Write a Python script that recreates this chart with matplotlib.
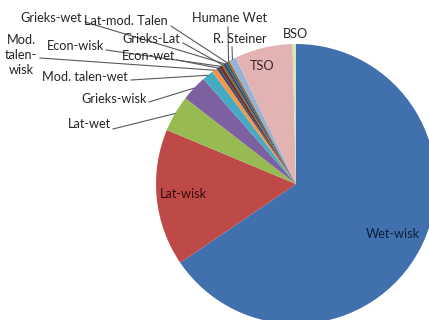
import numpy as np
import matplotlib
matplotlib.use('Agg')
import matplotlib.pyplot as plt

# slices clockwise from 12 o'clock (percent)
labels = ['Wet-wisk', 'Lat-wisk', 'Lat-wet', 'Grieks-wisk', 'Mod. talen-wet',
          'Mod.\ntalen-\nwisk', 'Econ-wet', 'Econ-wisk', 'Grieks-Lat', 'Grieks-wet',
          'Lat-mod. Talen', 'Humane Wet', 'R. Steiner', 'TSO', 'BSO']
values = [65.5, 15.8, 4.2, 3.0, 1.3, 0.6, 0.3, 0.4, 0.2, 0.3, 0.3, 0.2, 0.8, 6.7, 0.4]
colors = ['#4170AF', '#BE4A47', '#98BA52', '#7D60A0', '#46AAC5', '#F69546',
          '#2C4D75', '#772C2A', '#5F7530', '#4D3B62', '#276A7C', '#B65708',
          '#95B3D7', '#E3B3B3', '#D7E4BD']

W, H = 429, 320
CX, CY, R = 296, 184, 140   # pie centre / radius in pixels


def px(x, y):
    return (x - CX) / R, (CY - y) / R


fig = plt.figure(figsize=(W / 100, H / 100), dpi=100)
ax = fig.add_axes([0, 0, 1, 1])
plt.rcParams['font.family'] = ['Lato', 'DejaVu Sans']

wedges, _ = ax.pie(values, colors=colors, startangle=90, counterclock=False,
                   radius=1, wedgeprops=dict(linewidth=0))

x0, y0 = px(0, H)
x1, y1 = px(W, 0)
ax.set_xlim(x0, x1)
ax.set_ylim(y0, y1)
ax.set_aspect('equal')
ax.axis('off')

fs = 9.2
# labels inside the slices (pixel positions)
inside = {'Wet-wisk': (393, 234, '#0d1f3a'), 'Lat-wisk': (183, 194, '#3a0a0a'),
          'TSO': (262, 66, '#3a2626')}
# labels outside: right end of text, text y, line start
outside = {'Lat-wet': (111, 124, 113, 129),
           'Grieks-wisk': (147, 99, 149, 102),
           'Mod. talen-wet': (128, 77, 131, 80),
           'Mod.\ntalen-\nwisk': (38, 55, 40, 58),
           'Econ-wisk': (104, 46, 106, 50),
           'Econ-wet': (175, 56, 177, 60),
           'Grieks-Lat': (180, 39, 183, 43),
           'Lat-mod. Talen': (168, 21, 171, 26),
           'Grieks-wet': (82, 18, 85, 22)}
top = {'Humane Wet': (229, 18, 228, 27), 'R. Steiner': (240, 39, 232, 47),
       'BSO': (295, 34, None, None)}

for w, lab in zip(wedges, labels):
    mid = np.deg2rad((w.theta1 + w.theta2) / 2)
    tx, ty = np.cos(mid), np.sin(mid)
    if lab in inside:
        x, y, c = inside[lab]
        ax.text(*px(x, y), lab, ha='center', va='center', fontsize=fs, color=c)
    elif lab in outside:
        xr, y, lx, ly = outside[lab]
        ha = 'center' if '\n' in lab else 'right'
        xt = 21 if '\n' in lab else xr
        ax.text(*px(xt, y), lab, ha=ha, va='center', fontsize=fs, color='#262626',
                linespacing=1.3)
        ax.plot([px(lx, ly)[0], tx], [px(lx, ly)[1], ty], color='#595959', lw=0.8)
    elif lab in top:
        x, y, lx, ly = top[lab]
        ax.text(*px(x, y), lab, ha='center', va='center', fontsize=fs, color='#262626')
        if lx is not None:
            ax.plot([px(lx, ly)[0], tx], [px(lx, ly)[1], ty], color='#595959', lw=0.8)

fig.savefig('out.png', dpi=100)
